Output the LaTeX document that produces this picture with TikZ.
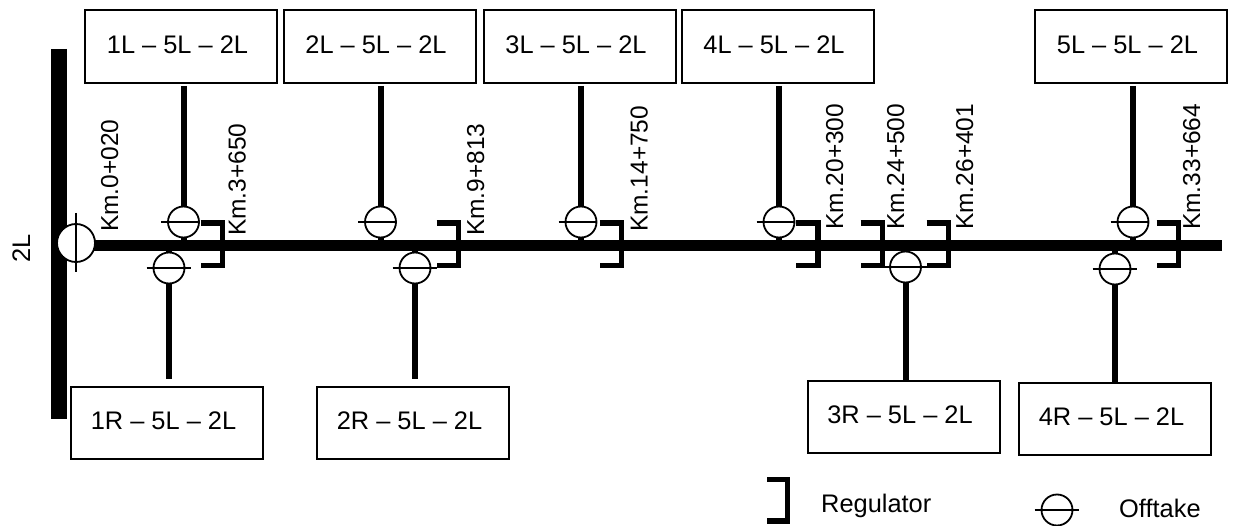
\documentclass[tikz,border=0pt]{standalone}
\usepackage{fontspec}
\setmainfont{Liberation Sans}
\begin{document}
\begin{tikzpicture}[
  x=1pt, y=-1pt,
  every node/.style={font=\fontsize{25.4}{30}\selectfont},
  branchbox/.style={rectangle, draw, line width=2pt, minimum width=192pt, inner sep=0pt,
    text depth=4pt, execute at end node=\hspace*{7pt}},
  offtake/.style={circle, draw, fill=white, line width=1.8pt, minimum size=31pt, inner sep=0pt},
  kmlabel/.style={rotate=90, anchor=base west, inner sep=0pt, font=\fontsize{24.5}{30}\selectfont},
  canal/.style={draw, line width=11.5pt},
  stem/.style={draw, line width=6pt},
  regulator/.style={draw, line width=5.5pt},
  crossbar/.style={draw, line width=1.5pt}
]
\useasboundingbox (0,0) rectangle (1233,526);
\coordinate (barTop) at (59,49);
\coordinate (barBottom) at (59,419);
\coordinate (canalStart) at (76,245.5);
\coordinate (canalEnd) at (1222,245.5);
\draw[canal, line width=15.5pt] (barTop) -- (barBottom);
\draw[canal] (canalStart) -- (canalEnd);
\foreach \name/\bx/\ox in {1L/181/183.5, 2L/379.5/380.5, 3L/579.5/581, 4L/777.5/779, 5L/1131/1133} {
  \node[branchbox, minimum height=73pt] (box\name) at (\bx,46.5) {\name{} – 5L – 2L};
  \coordinate (pos\name) at (\ox,222);
  \draw[stem, shorten <=2pt] (pos\name |- box\name.south) -- (pos\name |- canalStart);
  \node[offtake] (off\name) at (pos\name) {};
  \draw[crossbar] ([xshift=-6pt]off\name.west) -- (off\name.east);
}
\foreach \name/\bx/\by/\ox/\oy/\gap in {1R/167/423/169/268/7pt, 2R/413/423/415/268/7pt, 3R/903.5/416.5/905.5/267/0pt, 4R/1115/418.5/1115/269/0pt} {
  \node[branchbox, minimum height=72pt] (box\name) at (\bx,\by) {\name{} – 5L – 2L};
  \coordinate (pos\name) at (\ox,\oy);
  \draw[stem, shorten >=\gap] (pos\name |- canalStart) -- (pos\name |- box\name.north);
  \node[offtake] (off\name) at (pos\name) {};
  \draw[crossbar] ([xshift=-6pt]off\name.west) -- ([xshift=6pt]off\name.east);
}
\foreach \x in {222.5,458.5,621.5,818,882.5,948.5,1178.5} {
  \draw[regulator] (\x-22,223) -| (\x,265.5) -- (\x-22,265.5);
}
\node[offtake, minimum size=38pt] (head) at (76,243) {};
\coordinate (headTop) at (76,213);
\coordinate (headBottom) at (76,272);
\draw[crossbar] (headTop) -- (headBottom);
\node[kmlabel] (km1) at (118,232) {Km.0+020};
\node[kmlabel] (km2) at (245.5,236) {Km.3+650};
\node[kmlabel] (km3) at (484,236) {Km.9+813};
\node[kmlabel] (km4) at (647.5,232) {Km.14+750};
\node[kmlabel] (km5) at (843,230) {Km.20+300};
\node[kmlabel] (km6) at (904,230) {Km.24+500};
\node[kmlabel] (km7) at (973,230) {Km.26+401};
\node[kmlabel] (km8) at (1200,230) {Km.33+664};
\node[rotate=90, anchor=base, inner sep=0pt] (canalName) at (30,248) {2L};
\draw[regulator] (767,479.5) -| (787.5,521) -- (767,521);
\node[anchor=base west, inner sep=0pt] (regName) at (821,512) {Regulator};
\node[offtake] (offKey) at (1057,510) {};
\draw[crossbar] ([xshift=-6pt]offKey.west) -- ([xshift=6pt]offKey.east);
\node[anchor=base west, inner sep=0pt] (offName) at (1119,517) {Offtake};
\end{tikzpicture}
\end{document}
